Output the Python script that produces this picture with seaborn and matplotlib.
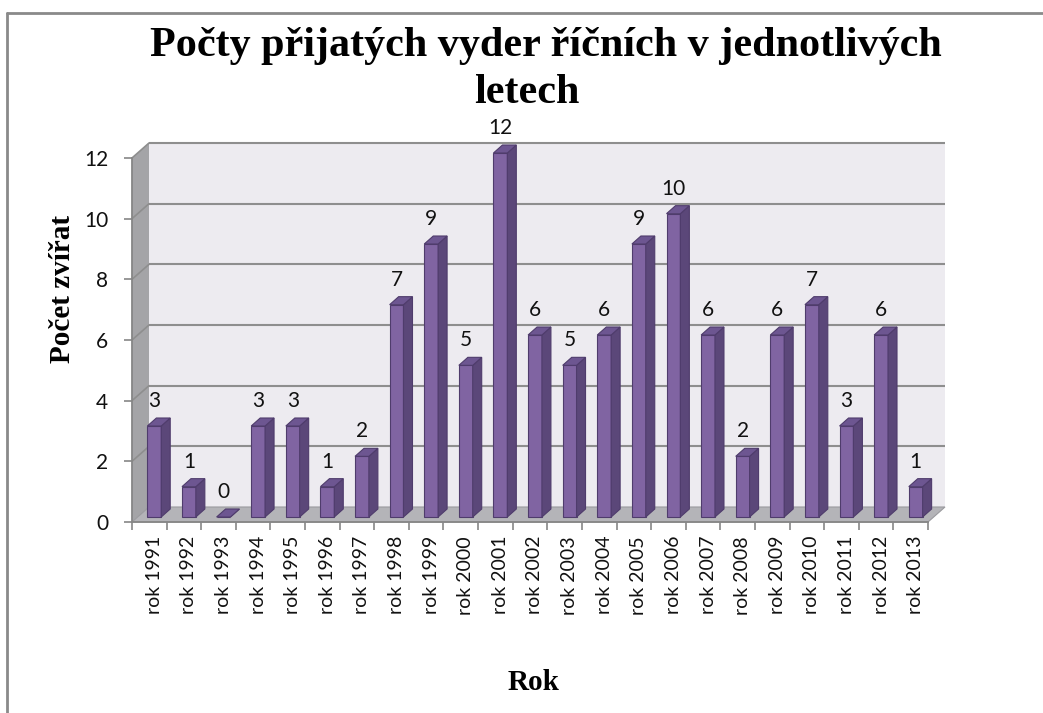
import matplotlib
matplotlib.use("Agg")
import matplotlib.pyplot as plt
from matplotlib.patches import Polygon
from matplotlib.lines import Line2D
import seaborn as sns
import pandas as pd
import numpy as np

# ---------------- data ----------------
years = ["rok 1991", "rok 1992", "rok 1993", "rok 1994", "rok 1995", "rok 1996",
         "rok 1997", "rok 1998", "rok 1999", "rok 2000", "rok 2001", "rok 2002",
         "rok 2003", "rok 2004", "rok 2005", "rok 2006", "rok 2007", "rok 2008",
         "rok 2009", "rok 2010", "rok 2011", "rok 2012", "rok 2013"]
counts = [3, 1, 0, 3, 3, 1, 2, 7, 9, 5, 12, 6, 5, 6, 9, 10, 6, 2, 6, 7, 3, 6, 1]
y_ticks = [0, 2, 4, 6, 8, 10, 12]
title_line1 = "Počty přijatých vyder říčních v jednotlivých"
title_line2 = "letech"
y_title = "Počet zvířat"
x_title = "Rok"

# ---------------- style ----------------
FRONT = "#8064a2"
SIDE = "#5b4779"
TOP = "#6d5691"
EDGE = "#4f3c6c"
BACKWALL = "#edebf0"
SIDEWALL = "#a4a4a7"
FLOOR = "#b4b4b8"
GRID = "#8e8e8e"
AXC = "#868686"

W, H, DPI = 1043, 713, 100
sns.set_theme(style="white")
plt.rcParams['font.family'] = ['Lato', 'DejaVu Sans']
SERIF = ['Liberation Serif', 'DejaVu Serif']

fig = plt.figure(figsize=(W / DPI, H / DPI), dpi=DPI)
fig.patch.set_facecolor("white")

# plot-area geometry in pixels (front plane)
px_x0, px_x1 = 132, 928
px_y0, px_y1 = 522, 158
ax = fig.add_axes([px_x0 / W, 1 - px_y0 / H, (px_x1 - px_x0) / W, (px_y0 - px_y1) / H])
ax.set_facecolor("none")

n = len(years)
ymax = y_ticks[-1]
df = pd.DataFrame({"rok": years, "pocet": counts})
sns.barplot(data=df, x="rok", y="pocet", color=FRONT, width=0.4, saturation=1,
            edgecolor=EDGE, linewidth=0.8, ax=ax, zorder=4)
ax.set_xlim(-0.5, n - 0.5)
ax.set_ylim(0, ymax)

# pixel -> data conversion
sx = n / (px_x1 - px_x0)
sy = ymax / (px_y0 - px_y1)
Dx, Dy = 17 * sx, 15 * sy          # wall depth
bdx, bdy = 5 * sx, 5 * sy          # bar shift (mid depth)
ddx, ddy = 9 * sx, 8 * sy          # bar depth

L, R = -0.5, n - 0.5
# walls and floor
ax.add_patch(Polygon([(L + Dx, Dy), (R + Dx, Dy), (R + Dx, ymax + Dy), (L + Dx, ymax + Dy)],
                     closed=True, fc=BACKWALL, ec="none", zorder=0, clip_on=False))
ax.add_patch(Polygon([(L, 0), (L + Dx, Dy), (L + Dx, ymax + Dy), (L, ymax)],
                     closed=True, fc=SIDEWALL, ec="none", zorder=0.5, clip_on=False))
for v in y_ticks[1:]:
    ax.plot([L + Dx, R + Dx], [v + Dy, v + Dy], color=GRID, lw=1.5, zorder=1, clip_on=False,
            solid_capstyle="butt")
    ax.plot([L, L + Dx], [v, v + Dy], color=GRID, lw=1.2, zorder=1, clip_on=False)
ax.add_patch(Polygon([(L, 0), (R, 0), (R + Dx, Dy), (L + Dx, Dy)],
                     closed=True, fc=FLOOR, ec="#9a9a9e", lw=0.8, zorder=2, clip_on=False))

# 3D bars
bars = [p for p in ax.patches if not isinstance(p, Polygon)]
for p, v in zip(bars, counts):
    x = p.get_x() + bdx
    w = p.get_width()
    h = p.get_height()
    p.set_x(x)
    p.set_y(bdy)
    p.set_clip_on(False)
    top = bdy + h
    ax.add_patch(Polygon([(x + w, bdy), (x + w + ddx, bdy + ddy), (x + w + ddx, top + ddy), (x + w, top)],
                         closed=True, fc=SIDE, ec=EDGE, lw=0.8, zorder=4, clip_on=False))
    ax.add_patch(Polygon([(x, top), (x + w, top), (x + w + ddx, top + ddy), (x + ddx, top + ddy)],
                         closed=True, fc=TOP, ec=EDGE, lw=0.8, zorder=4, clip_on=False))
    ax.text(x + w / 2, top + 25 * sy, str(v), ha="center", va="center",
            fontsize=15, color="#111111", zorder=5)

# axes, ticks
for s in ["top", "right"]:
    ax.spines[s].set_visible(False)
for s in ["left", "bottom"]:
    ax.spines[s].set_color(AXC)
    ax.spines[s].set_linewidth(1.3)
    ax.spines[s].set_zorder(3)
ax.set_yticks(y_ticks)
ax.set_yticklabels([str(t) for t in y_ticks])
ax.tick_params(axis="y", left=True, length=6, width=1.2, color=AXC, labelsize=15,
               pad=11, labelcolor="#111111")
ax.set_xticks(np.arange(n) + bdx, labels=years, rotation=90)
ax.tick_params(axis="x", which="major", length=0, labelsize=14, pad=10, labelcolor="#111111")
ax.set_xticks(np.arange(-0.5, n, 1), minor=True)
ax.tick_params(axis="x", which="minor", bottom=True, length=6, width=1.2, color=AXC)
ax.set_xlabel("")
ax.set_ylabel("")

# titles
fig.text(546 / W, 1 - 46 / H, title_line1, ha="center", va="center", fontsize=30.3,
         fontweight="bold", family=SERIF, color="black")
fig.text(527 / W, 1 - 93 / H, title_line2, ha="center", va="center", fontsize=30.3,
         fontweight="bold", family=SERIF, color="black")
fig.text(62 / W, 1 - 289 / H, y_title, ha="center", va="center", rotation=90,
         fontsize=21, fontweight="bold", family=SERIF, color="black")
fig.text(533 / W, 1 - 682 / H, x_title, ha="center", va="center",
         fontsize=21, fontweight="bold", family=SERIF, color="black")

# chart border
fig.add_artist(Line2D([7 / W, 7 / W], [0, 1 - 13 / H], transform=fig.transFigure,
                      color="#8a8a8a", lw=2))
fig.add_artist(Line2D([7 / W, 1], [1 - 13 / H, 1 - 13 / H], transform=fig.transFigure,
                      color="#8a8a8a", lw=2))

fig.savefig("out.png", dpi=DPI)
